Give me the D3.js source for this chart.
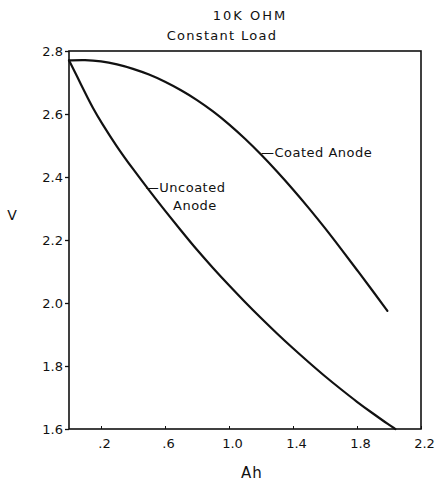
<!DOCTYPE html>
<html><head><meta charset="utf-8">
<script src="https://cdn.jsdelivr.net/npm/d3@7"></script>
<style>body{margin:0;background:#fff}svg{display:block}text{font-family:"DejaVu Sans",sans-serif;fill:#111}</style>
</head><body><svg id="c" width="436" height="481"></svg>
<script>
const coatedAh = [0,0.1,0.2,0.3,0.4,0.5,0.6,0.7,0.8,0.9,1.0,1.1,1.2,1.3,1.4,1.5,1.6,1.7,1.8,1.9,1.99];
const coatedV  = [2.77,2.772,2.768,2.758,2.744,2.726,2.703,2.676,2.645,2.609,2.568,2.522,2.472,2.418,2.361,2.301,2.238,2.172,2.105,2.037,1.975];
const uncoatedAh = [0,0.05,0.1,0.15,0.2,0.3,0.4,0.5,0.6,0.7,0.8,0.9,1.0,1.1,1.2,1.3,1.4,1.5,1.6,1.7,1.8,1.9,2.0,2.04];
const uncoatedV  = [2.77,2.72,2.668,2.618,2.575,2.495,2.425,2.358,2.293,2.23,2.168,2.111,2.056,2.003,1.952,1.903,1.856,1.811,1.767,1.726,1.686,1.649,1.613,1.6];
const xTicks = [0.2,0.6,1.0,1.4,1.8,2.2];
const yTicks = [1.6,1.8,2.0,2.2,2.4,2.6,2.8];
const titleLines = ["10K OHM","Constant Load"];
const labels = [
  {text:"\u2014Coated Anode", ah:1.2, v:2.475},
  {text:"\u2014Uncoated", ah:0.48, v:2.363},
  {text:"Anode", ah:0.65, v:2.306}
];

const svg = d3.select("#c");
const L=69,R=421,T=51,B=429;
const x = d3.scaleLinear().domain([0,2.2]).range([L,R]);
const y = d3.scaleLinear().domain([1.6,2.8]).range([B,T]);

svg.append("rect").attr("x",L).attr("y",T).attr("width",R-L).attr("height",B-T)
  .attr("fill","none").attr("stroke","#111").attr("stroke-width",1.6);

const yAx = svg.append("g").attr("transform",`translate(${L},0)`)
  .call(d3.axisLeft(y).tickValues(yTicks).tickSize(4).tickPadding(2).tickFormat(d3.format(".1f")));
yAx.select(".domain").remove();
yAx.selectAll("line").attr("stroke","#111").attr("stroke-width",1.3);
yAx.selectAll("text").attr("font-size",13).style("font-family","DejaVu Sans");

const xAx = svg.append("g").attr("transform",`translate(0,${B})`)
  .call(d3.axisBottom(x).tickValues(xTicks).tickSize(-3).tickPadding(10)
    .tickFormat(d => d<1 ? d3.format(".1f")(d).replace(/^0/,"") : d3.format(".1f")(d)));
xAx.select(".domain").remove();
xAx.selectAll("line").attr("stroke","#111").attr("stroke-width",1);
xAx.selectAll("text").attr("font-size",13).attr("dx",3).style("font-family","DejaVu Sans");

const line = d3.line().x(d=>x(d[0])).y(d=>y(d[1])).curve(d3.curveBasis);
const coated = coatedAh.map((a,i)=>[a,coatedV[i]]);
const uncoated = uncoatedAh.map((a,i)=>[a,uncoatedV[i]]);
[coated,uncoated].forEach(d=>{
  svg.append("path").datum(d).attr("d",line).attr("fill","none")
    .attr("stroke","#111").attr("stroke-width",2.2).attr("stroke-linecap","round");
});

svg.append("text").attr("x",250).attr("y",20).attr("text-anchor","middle")
  .attr("font-size",13).attr("letter-spacing",2).text(titleLines[0]);
svg.append("text").attr("x",222).attr("y",40).attr("text-anchor","middle")
  .attr("font-size",13).attr("letter-spacing",1.3).text(titleLines[1]);

labels.forEach(l=>{
  svg.append("text").attr("x",x(l.ah)).attr("y",y(l.v)).attr("dominant-baseline","middle")
    .attr("font-size",13).attr("letter-spacing",0.5).text(l.text);
});

svg.append("text").attr("x",12).attr("y",220).attr("text-anchor","middle")
  .attr("font-size",14).text("V");
svg.append("text").attr("x",252).attr("y",478).attr("text-anchor","middle")
  .attr("font-size",15).attr("letter-spacing",1).text("Ah");
</script></body></html>
